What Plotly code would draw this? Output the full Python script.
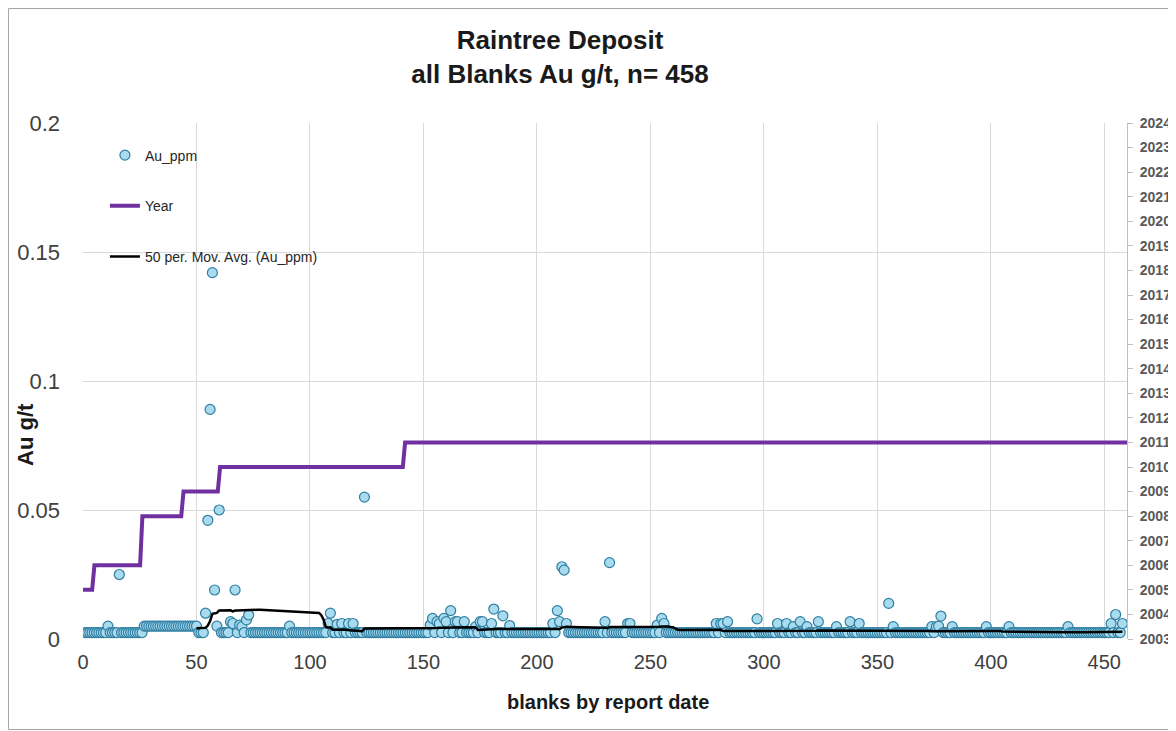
import numpy as np
import pandas as pd
import plotly.graph_objects as go

# ---------------- data ----------------
N_SAMPLES = 458
# detection-limit runs: (first index, last index, value)
au_base_runs = [(1, 26, 0.0025), (27, 50, 0.005), (51, 458, 0.0025)]
# samples above the detection-limit baseline
au_idx = [11, 16, 54, 55, 56, 57, 58, 59, 60, 65, 66, 67, 69, 70, 72, 73, 91,
          108, 109, 112, 114, 117, 119, 124,
          153, 154, 156, 157, 159, 160, 162, 164, 165, 168, 173, 175, 176, 180,
          181, 185, 188, 207, 209, 210, 211, 212, 213, 230, 232, 240, 241,
          253, 255, 256, 279, 281, 282, 284, 297, 306, 310, 313, 316, 319, 324,
          332, 338, 342, 355, 357, 374, 376, 377, 378, 383, 398, 408, 434,
          453, 455, 458]
au_val = [0.005, 0.025, 0.010, 0.046, 0.089, 0.142, 0.019, 0.005, 0.050, 0.0067,
          0.006, 0.019, 0.0054, 0.0048, 0.0074, 0.0093, 0.005,
          0.006, 0.010, 0.0057, 0.006, 0.006, 0.006, 0.055,
          0.0054, 0.008, 0.0067, 0.006, 0.008, 0.0067, 0.011, 0.0067, 0.0067,
          0.0067, 0.0048, 0.0067, 0.0067, 0.006, 0.0116, 0.009, 0.0052,
          0.006, 0.011, 0.0067, 0.028, 0.0267, 0.006, 0.0067, 0.0296, 0.006,
          0.006, 0.0054, 0.008, 0.006, 0.006, 0.006, 0.006, 0.0067, 0.0078,
          0.006, 0.006, 0.0048, 0.0067, 0.0048, 0.0067, 0.0048, 0.0067, 0.006,
          0.0138, 0.0048, 0.0048, 0.0048, 0.005, 0.0089, 0.0048, 0.0048,
          0.0048, 0.0048, 0.006, 0.0095, 0.006]
# report year of each blank (step series): values and run lengths
year_values = [2005, 2006, 2008, 2009, 2010, 2011]
year_counts = [5, 21, 18, 16, 81, 317]
MA_PERIOD = 50

x_ticks = [0, 50, 100, 150, 200, 250, 300, 350, 400, 450]
y_ticks = [0, 0.05, 0.1, 0.15, 0.2]
year_ticks = list(range(2003, 2025))

# ---------------- build series ----------------
sample_no = np.arange(1, N_SAMPLES + 1)
au = np.zeros(N_SAMPLES)
for a, b, v in au_base_runs:
    au[a - 1:b] = v
for i, v in zip(au_idx, au_val):
    au[i - 1] = v

years = np.repeat(year_values, year_counts)
year_pos = np.arange(len(years))

ma = pd.Series(au).rolling(MA_PERIOD).mean()
ma_x = sample_no[MA_PERIOD - 1:]
ma_y = ma.values[MA_PERIOD - 1:]

FONT = "Liberation Sans, Arial, sans-serif"

# layout geometry (figure px; page has an 8px body margin)
W, H = 1168, 723
L, R, T, B = 75, 49, 115, 92
PW, PH = W - L - R, H - T - B


def px_x(fx):
    return (fx - L) / PW


def px_y(fy):
    return (T + PH - fy) / PH


fig = go.Figure()
fig.add_trace(go.Scatter(
    x=sample_no, y=au, mode="markers", name="Au_ppm", legendgroup="a",
    marker=dict(size=10, color="#a9dbee", line=dict(color="#2f7fa3", width=1.2)),
    xaxis="x", yaxis="y"))
fig.add_trace(go.Scatter(
    x=year_pos, y=years, mode="lines", name="Year", legendgroup="b",
    line=dict(color="#7030a0", width=4), xaxis="x2", yaxis="y2"))
fig.add_trace(go.Scatter(
    x=ma_x, y=ma_y, mode="lines", name="50 per. Mov. Avg. (Au_ppm)", legendgroup="c",
    line=dict(color="#000000", width=2.5), xaxis="x", yaxis="y"))

grid = "#d9d9d9"
fig.update_layout(
    width=W, height=H,
    margin=dict(l=L, r=R, t=T, b=B, autoexpand=False),
    paper_bgcolor="white", plot_bgcolor="white",
    font=dict(family=FONT, color="#404040"),
    title=dict(text="Raintree Deposit<br>all Blanks Au g/t, n= 458",
               x=552 / W, xanchor="center", xref="container",
               y=1 - 41 / H, yanchor="middle", yref="container", automargin=False,
               font=dict(family=FONT, size=26, color="#1a1a1a", weight="bold")),
    xaxis=dict(range=[0, 460], tickvals=x_ticks, showgrid=True, gridcolor=grid,
               gridwidth=1, zeroline=False, showline=False, ticks="",
               automargin=False,
               tickfont=dict(size=20, color="#404040"), ticklabelstandoff=9),
    yaxis=dict(range=[0, 0.2], tickvals=y_ticks, showgrid=True, gridcolor=grid,
               gridwidth=1, zeroline=False, showline=False, ticks="",
               automargin=False,
               tickfont=dict(size=22, color="#404040"), ticklabelstandoff=22),
    xaxis2=dict(overlaying="x", range=[0, N_SAMPLES - 1], visible=False,
                showgrid=False, automargin=False),
    yaxis2=dict(overlaying="y", side="right", anchor="x2", range=[2003, 2024],
                tickvals=year_ticks, showgrid=False, zeroline=False,
                showline=True, linecolor="#bfbfbf", linewidth=1,
                ticks="outside", ticklen=5, tickcolor="#bfbfbf", automargin=False,
                tickfont=dict(size=14, color="#595959", weight="bold"),
                ticklabelstandoff=4),
    legend=dict(x=0.021, y=0.968, xanchor="left", yanchor="top",
                bgcolor="rgba(0,0,0,0)", tracegroupgap=29.5,
                font=dict(size=14, color="#262626"), itemwidth=30),
    showlegend=True,
)

fig.add_annotation(text="Au g/t", textangle=-90, xref="paper", yref="paper",
                   x=px_x(17), y=px_y(427), xanchor="center", yanchor="middle",
                   showarrow=False,
                   font=dict(family=FONT, size=22, color="#1a1a1a", weight="bold"))
fig.add_annotation(text="blanks by report date", xref="paper", yref="paper",
                   x=px_x(600), y=px_y(694), xanchor="center", yanchor="middle",
                   showarrow=False,
                   font=dict(family=FONT, size=20, color="#1a1a1a", weight="bold"))

# chart-area border
fig.add_shape(type="rect", xref="paper", yref="paper",
              x0=px_x(0.5), x1=px_x(W + 20), y0=px_y(H - 1.5), y1=px_y(0.5),
              line=dict(color="#a6a6a6", width=1), fillcolor="rgba(0,0,0,0)",
              layer="below")

fig.write_html("out.html")
